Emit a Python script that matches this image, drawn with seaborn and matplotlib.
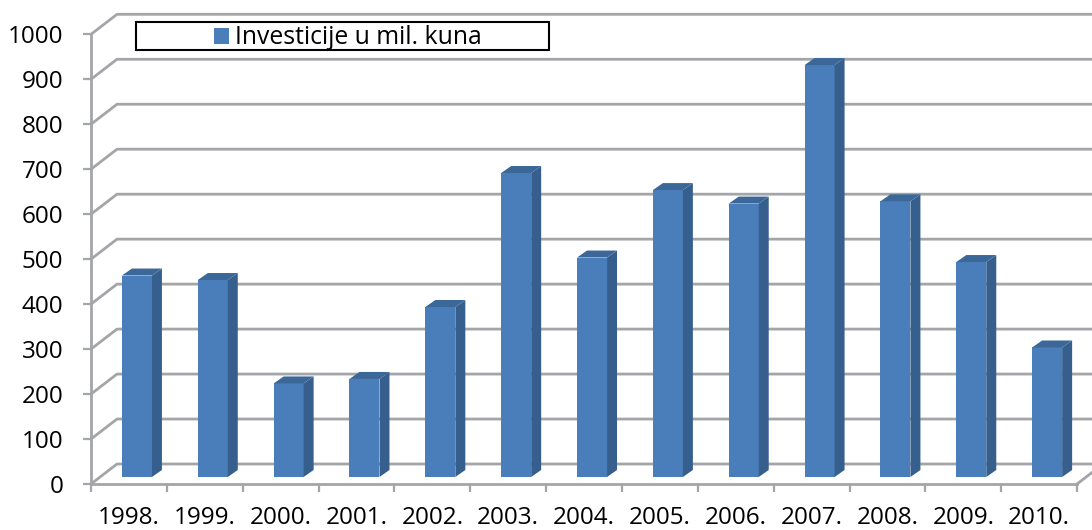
import matplotlib
matplotlib.use("Agg")
import matplotlib.pyplot as plt
from matplotlib.patches import Polygon, Rectangle
from matplotlib.lines import Line2D
import seaborn as sns
import pandas as pd

years = ["1998.", "1999.", "2000.", "2001.", "2002.", "2003.", "2004.",
         "2005.", "2006.", "2007.", "2008.", "2009.", "2010."]
investments = [448, 438, 208, 218, 378, 676, 488, 638, 608, 916, 613, 478, 288]
y_ticks = list(range(0, 1001, 100))
legend_label = "Investicije u mil. kuna"

W, H = 1092, 530
PX_X = 75.85      # pixels per category
PX_Y = 0.4497     # pixels per value unit
FRONT, SIDE, TOP = "#4a7ebb", "#375f8e", "#3b6799"
GRID = "#a3a5a8"

sns.set_theme(style="white")
plt.rcParams["font.family"] = ["Open Sans", "DejaVu Sans"]

fig = plt.figure(figsize=(W / 100, H / 100), dpi=100, facecolor="white")
ax = fig.add_axes([91 / W, (H - 484) / H, (W - 91) / W, 484 / H])
ax.set_facecolor("none")

wall_dx, wall_dy = 26 / PX_X, 20 / PX_Y
depth_dx, depth_dy = 10 / PX_X, 7 / PX_Y
base = 7 / PX_Y
bar_w = 30 / PX_X
shift = 8 / PX_X

df = pd.DataFrame({"pos": [i + 0.5 + shift for i in range(len(years))],
                   "value": investments})
sns.barplot(data=df, x="pos", y="value", native_scale=True, width=bar_w,
            color=FRONT, saturation=1, bottom=base, ax=ax, zorder=5,
            linewidth=0, errorbar=None)

for p, v in zip(df["pos"], df["value"]):
    l, r = p - bar_w / 2, p + bar_w / 2
    t = base + v
    ax.add_patch(Polygon([(r, base), (r + depth_dx, base + depth_dy),
                          (r + depth_dx, t + depth_dy), (r, t)],
                         closed=True, fc=SIDE, ec="none", zorder=5))
    ax.add_patch(Polygon([(l, t), (r, t), (r + depth_dx, t + depth_dy),
                          (l + depth_dx, t + depth_dy)],
                         closed=True, fc=TOP, ec="none", zorder=5))

xmax = (W - 91) / PX_X
n = len(years)
for v in y_ticks:
    ax.add_line(Line2D([0, wall_dx, xmax], [v, v + wall_dy, v + wall_dy],
                       color=GRID, lw=2.0, zorder=1, clip_on=False))
ax.add_line(Line2D([n, n + wall_dx], [0, wall_dy], color=GRID, lw=2.0, zorder=1))

ax.set_xlim(0, xmax)
ax.set_ylim(0, 484 / PX_Y)
ax.set_xlabel("")
ax.set_ylabel("")
ax.set_yticks(y_ticks)
ax.set_xticks(range(n + 1))
ax.set_xticklabels([""] * (n + 1))
ax.set_xticks([i + 0.5 for i in range(n)], labels=years, minor=True)
ax.tick_params(axis="x", which="minor", length=0, pad=15.5, labelsize=17.5,
               labelcolor="#000000")
ax.tick_params(axis="x", which="major", length=6, width=1.6, color=GRID,
               direction="out", bottom=True)
ax.tick_params(axis="y", length=6, width=1.6, color=GRID, pad=14, labelsize=17.5,
               labelcolor="#000000", direction="out", left=True)
for s in ("top", "right"):
    ax.spines[s].set_visible(False)
ax.spines["left"].set_bounds(0, 1000)
ax.spines["bottom"].set_bounds(0, n)
for s in ("left", "bottom"):
    ax.spines[s].set_color(GRID)
    ax.spines[s].set_linewidth(2.0)

# legend frame, then a frameless legend inside it
fig.add_artist(Rectangle((136 / W, (H - 50) / H), 413 / W, 28 / H,
                         transform=fig.transFigure, fc="white", ec="black",
                         lw=1.5, zorder=6))
handle = Rectangle((0, 0), 1, 1, fc=FRONT, ec="none")
leg = fig.legend([handle], [legend_label], loc="center left",
                 bbox_to_anchor=(192 / W, (H - 38) / H), frameon=False,
                 fontsize=17.8, handlelength=0.6, handleheight=0.6,
                 handletextpad=0.25, labelcolor="#000000")
leg.set_zorder(7)

fig.savefig("out.png", dpi=100)
